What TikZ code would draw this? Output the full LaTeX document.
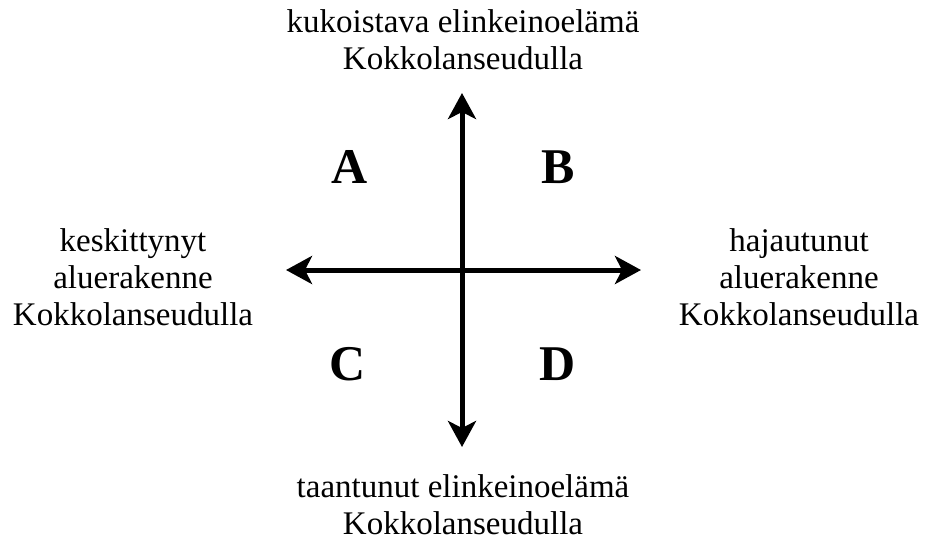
\documentclass[tikz,border=0pt]{standalone}
\usepackage{fontspec}
\setmainfont{Liberation Serif}
\usetikzlibrary{arrows.meta}
\begin{document}
\begin{tikzpicture}[x=1pt,y=-1pt,
  lbl/.style={align=center,inner sep=0pt,font=\fontsize{33}{37}\selectfont},
  quad/.style={inner sep=0pt,font=\fontsize{50}{55}\selectfont\bfseries},
  axis/.style={line width=5pt,-{Stealth[length=26pt,width=28pt,inset=7pt]},shorten >=0pt}]
\useasboundingbox (0,0) rectangle (928,541);
\coordinate (c) at (462,270);
\coordinate (top) at (462,93);
\coordinate (bot) at (462,447);
\coordinate (lft) at (286,270);
\coordinate (rgt) at (641,270);
\draw[axis] (c) -- (top);
\draw[axis] (c) -- (bot);
\draw[axis] (c) -- (lft);
\draw[axis] (c) -- (rgt);
\node[lbl] (tlabel) at (463,40) {kukoistava elinkeinoelämä\\Kokkolanseudulla};
\node[lbl] (blabel) at (463,505) {taantunut elinkeinoelämä\\Kokkolanseudulla};
\node[lbl] (llabel) at (133,277) {keskittynyt\\aluerakenne\\Kokkolanseudulla};
\node[lbl] (rlabel) at (799,277) {hajautunut\\aluerakenne\\Kokkolanseudulla};
\node[quad] (A) at (350,167) {A};
\node[quad] (B) at (558,167) {B};
\node[quad] (C) at (348,364) {C};
\node[quad] (D) at (558,364) {D};
\end{tikzpicture}
\end{document}
